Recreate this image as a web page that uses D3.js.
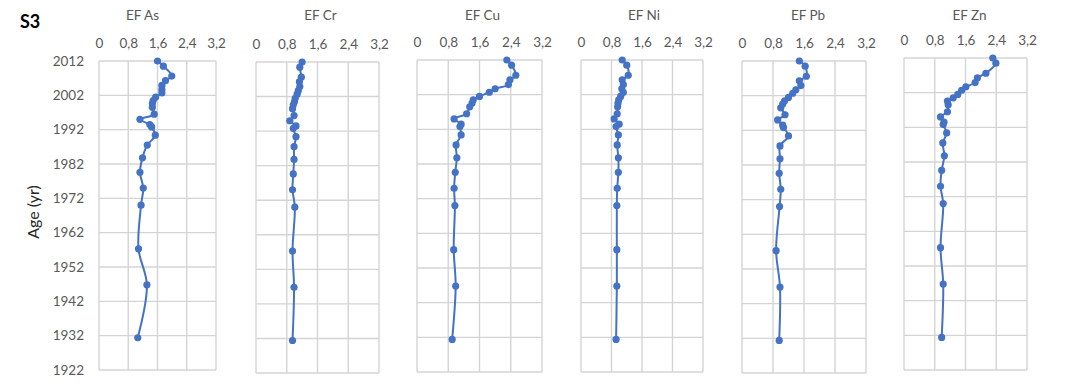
<!DOCTYPE html>
<html>
<head>
<meta charset="utf-8">
<script src="https://cdn.jsdelivr.net/npm/d3@7"></script>
<style>
  body { margin: 0; background: #fff; }
  svg { display: block; }
</style>
</head>
<body>
<div id="graph"></div>
<script>
'use strict';

// sample ages (yr), shared by every panel
var years = [2012, 2010.5, 2007.6, 2006.3, 2004.9, 2003.7, 2002.7, 2001.5, 2000.5, 1999.6, 1998.5, 1996.5,
  1995.0, 1993.5, 1992.8, 1990.4, 1987.5, 1983.8, 1979.6, 1975.0, 1970.0, 1957.3, 1946.8, 1931.4];

// enrichment factors
var efAs = [1.60, 1.76, 1.99, 1.82, 1.72, 1.72, 1.72, 1.55, 1.48, 1.46, 1.46, 1.51,
  1.12, 1.39, 1.44, 1.54, 1.32, 1.19, 1.12, 1.21, 1.15, 1.08, 1.31, 1.06];
var efCr = [1.20, 1.14, 1.18, 1.13, 1.14, 1.10, 1.07, 1.02, 1.00, 0.97, 0.95, 0.99,
  0.88, 1.04, 0.97, 1.04, 0.99, 0.99, 0.97, 0.95, 1.01, 0.95, 0.99, 0.95];
var efCu = [2.30, 2.42, 2.53, 2.38, 2.34, 2.00, 1.85, 1.60, 1.44, 1.41, 1.35, 1.27,
  0.95, 1.13, 1.10, 1.13, 1.00, 1.02, 0.98, 0.95, 0.97, 0.94, 0.99, 0.90];
var efNi = [1.08, 1.20, 1.24, 1.08, 1.11, 1.07, 1.11, 1.04, 0.99, 0.97, 0.96, 0.95,
  0.87, 1.00, 0.92, 0.98, 0.95, 0.98, 0.98, 0.95, 0.94, 0.94, 0.94, 0.92];
var efPb = [1.48, 1.63, 1.66, 1.48, 1.52, 1.39, 1.31, 1.20, 1.10, 1.05, 1.00, 1.11,
  0.92, 1.05, 1.07, 1.20, 0.98, 0.98, 0.96, 1.00, 0.97, 0.88, 0.98, 0.96];
var efZn = [2.31, 2.39, 2.13, 1.91, 1.85, 1.61, 1.50, 1.40, 1.28, 1.13, 1.15, 1.13,
  0.95, 1.04, 1.02, 1.11, 1.01, 1.05, 0.98, 0.95, 1.02, 0.95, 1.02, 0.98];

var titles = ['EF As', 'EF Cr', 'EF Cu', 'EF Ni', 'EF Pb', 'EF Zn'];
var series = [efAs, efCr, efCu, efNi, efPb, efZn];
var xTicks = [0, 0.8, 1.6, 2.4, 3.2];
var yTicks = [1922, 1932, 1942, 1952, 1962, 1972, 1982, 1992, 2002, 2012];

// each panel was pasted separately, so boxes differ by a pixel or two
var boxes = [
  {left: 99, right: 216, top: 61, bottom: 370, titleShift: -15},
  {left: 256, right: 379, top: 62, bottom: 373, titleShift: 3},
  {left: 417, right: 542, top: 60, bottom: 372, titleShift: 3},
  {left: 581, right: 703, top: 60, bottom: 372, titleShift: 2},
  {left: 742, right: 866, top: 61, bottom: 373, titleShift: 4},
  {left: 904, right: 1027, top: 58, bottom: 370, titleShift: 4}
];

var canvasWidth = 1076;
var canvasHeight = 387;
var font = 'Lato, "Open Sans", sans-serif';
var blue = '#4472C4';
var gridColor = '#d4d4d4';
var textColor = '#595959';

var svg = d3.select('#graph')
  .append('svg')
  .attr('width', canvasWidth)
  .attr('height', canvasHeight);

// sample label
svg.append('text')
  .attr('x', 20)
  .attr('y', 28)
  .attr('font-family', font)
  .attr('font-weight', 'bold')
  .attr('font-size', '18px')
  .attr('fill', '#000')
  .text('S3');

// y axis title
svg.append('text')
  .attr('transform', 'translate(39,212) rotate(-90)')
  .attr('text-anchor', 'middle')
  .attr('font-family', font)
  .attr('font-size', '16px')
  .attr('fill', '#262626')
  .text('Age (yr)');

titles.forEach(function(title, i) {
  var b = boxes[i];
  var width = b.right - b.left;
  var height = b.bottom - b.top;

  var xScale = d3.scaleLinear().domain([0, 3.2]).range([0, width]);
  var yScale = d3.scaleLinear().domain([1922, 2012]).range([height, 0]);

  var g = svg.append('g')
    .attr('transform', 'translate(' + b.left + ',' + b.top + ')');

  // gridlines
  g.append('g')
    .selectAll('line')
    .data(xTicks)
    .enter()
    .append('line')
    .attr('x1', function(d) { return xScale(d); })
    .attr('x2', function(d) { return xScale(d); })
    .attr('y1', 0)
    .attr('y2', height)
    .attr('stroke', gridColor)
    .attr('stroke-width', 1.4);
  g.append('g')
    .selectAll('line')
    .data(yTicks)
    .enter()
    .append('line')
    .attr('x1', 0)
    .attr('x2', width)
    .attr('y1', function(d) { return yScale(d); })
    .attr('y2', function(d) { return yScale(d); })
    .attr('stroke', gridColor)
    .attr('stroke-width', 1.4);

  // top axis labels
  var xAxis = g.append('g')
    .call(d3.axisTop(xScale)
      .tickValues(xTicks)
      .tickSize(0)
      .tickPadding(13)
      .tickFormat(function(d) { return String(d).replace('.', ','); }));
  xAxis.select('.domain').remove();
  xAxis.selectAll('text')
    .attr('font-family', font)
    .attr('font-size', '13.5px')
    .attr('fill', textColor);

  // only the first panel carries the age labels
  if (i === 0) {
    var yAxis = g.append('g')
      .call(d3.axisLeft(yScale)
        .tickValues(yTicks)
        .tickSize(0)
        .tickPadding(15)
        .tickFormat(d3.format('d')));
    yAxis.select('.domain').remove();
    yAxis.selectAll('text')
      .attr('font-family', font)
      .attr('font-size', '13.5px')
      .attr('fill', textColor);
  }

  // panel title
  svg.append('text')
    .attr('x', b.left + width / 2 + b.titleShift)
    .attr('y', 20)
    .attr('text-anchor', 'middle')
    .attr('font-family', font)
    .attr('font-size', '13.5px')
    .attr('fill', textColor)
    .text(title);

  var points = years.map(function(y, k) { return {year: y, value: series[i][k]}; });

  var line = d3.line()
    .x(function(d) { return xScale(d.value); })
    .y(function(d) { return yScale(d.year); })
    .curve(d3.curveCatmullRom.alpha(0.5));

  g.append('path')
    .datum(points)
    .attr('d', line)
    .attr('fill', 'none')
    .attr('stroke', blue)
    .attr('stroke-width', 2);

  g.selectAll('circle')
    .data(points)
    .enter()
    .append('circle')
    .attr('cx', function(d) { return xScale(d.value); })
    .attr('cy', function(d) { return yScale(d.year); })
    .attr('r', 3.6)
    .attr('fill', blue);
});
</script>
</body>
</html>
